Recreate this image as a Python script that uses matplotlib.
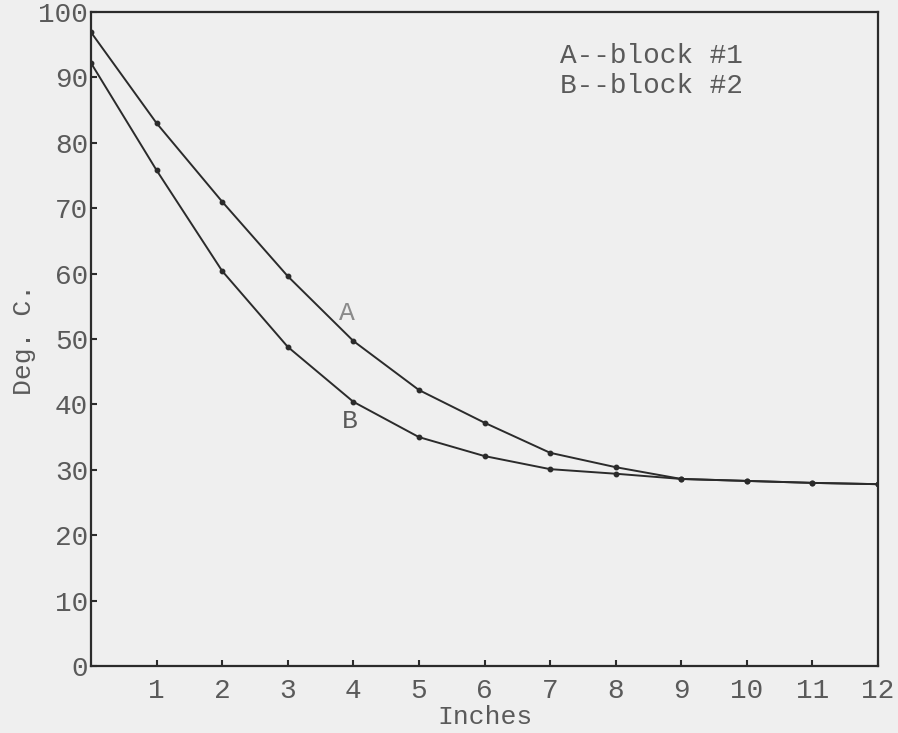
import matplotlib
matplotlib.use("Agg")
import matplotlib.pyplot as plt

inches = [0, 1, 2, 3, 4, 5, 6, 7, 8, 9, 10, 11, 12]
block_a = [96.9, 83.0, 71.0, 59.6, 49.7, 42.2, 37.2, 32.6, 30.4, 28.6, 28.3, 28.0, 27.8]
block_b = [92.2, 75.8, 60.4, 48.8, 40.4, 35.0, 32.1, 30.1, 29.4, 28.6, 28.3, 28.0, 27.8]
x_ticks = [1, 2, 3, 4, 5, 6, 7, 8, 9, 10, 11, 12]
y_ticks = [0, 10, 20, 30, 40, 50, 60, 70, 80, 90, 100]

bg = "#efefef"
ink = "#2b2b2b"
txt = "#5a5a5a"
font = "Liberation Mono"

fig = plt.figure(figsize=(8.98, 7.33), dpi=100, facecolor=bg)
ax = fig.add_axes([91/898, 1 - 666/733, (878-91)/898, (666-12)/733])
ax.set_facecolor(bg)

ax.plot(inches, block_a, color=ink, lw=1.4, marker="o", ms=3.2)
ax.plot(inches, block_b, color=ink, lw=1.4, marker="o", ms=3.2)

ax.set_xlim(0, 12)
ax.set_ylim(0, 100)
ax.set_xticks(x_ticks)
ax.set_yticks(y_ticks)
ax.set_xticklabels([str(v) for v in x_ticks], fontfamily=font, fontsize=20, color=txt)
ax.set_yticklabels([str(v) for v in y_ticks], fontfamily=font, fontsize=20, color=txt)
ax.tick_params(axis="both", direction="in", length=4, width=1.5, color=ink)
ax.tick_params(axis="x", pad=9)
ax.tick_params(axis="y", pad=2)
for s in ax.spines.values():
    s.set_color(ink)
    s.set_linewidth(1.6)

ax.set_xlabel("Inches", fontfamily=font, fontsize=19, color=txt, labelpad=0)
ax.set_ylabel("Deg. C.", fontfamily=font, fontsize=19, color=txt, labelpad=2)

ax.text(3.9, 54, "A", fontfamily=font, fontsize=19, color="#8a8a8a", ha="center", va="center")
ax.text(3.95, 37.5, "B", fontfamily=font, fontsize=19, color=txt, ha="center", va="center")
ax.text(7.15, 91.0, "A--block #1\nB--block #2", fontfamily=font, fontsize=20, color=txt,
        ha="left", va="center", linespacing=1.2)

fig.savefig("out.png", dpi=100, facecolor=bg)
